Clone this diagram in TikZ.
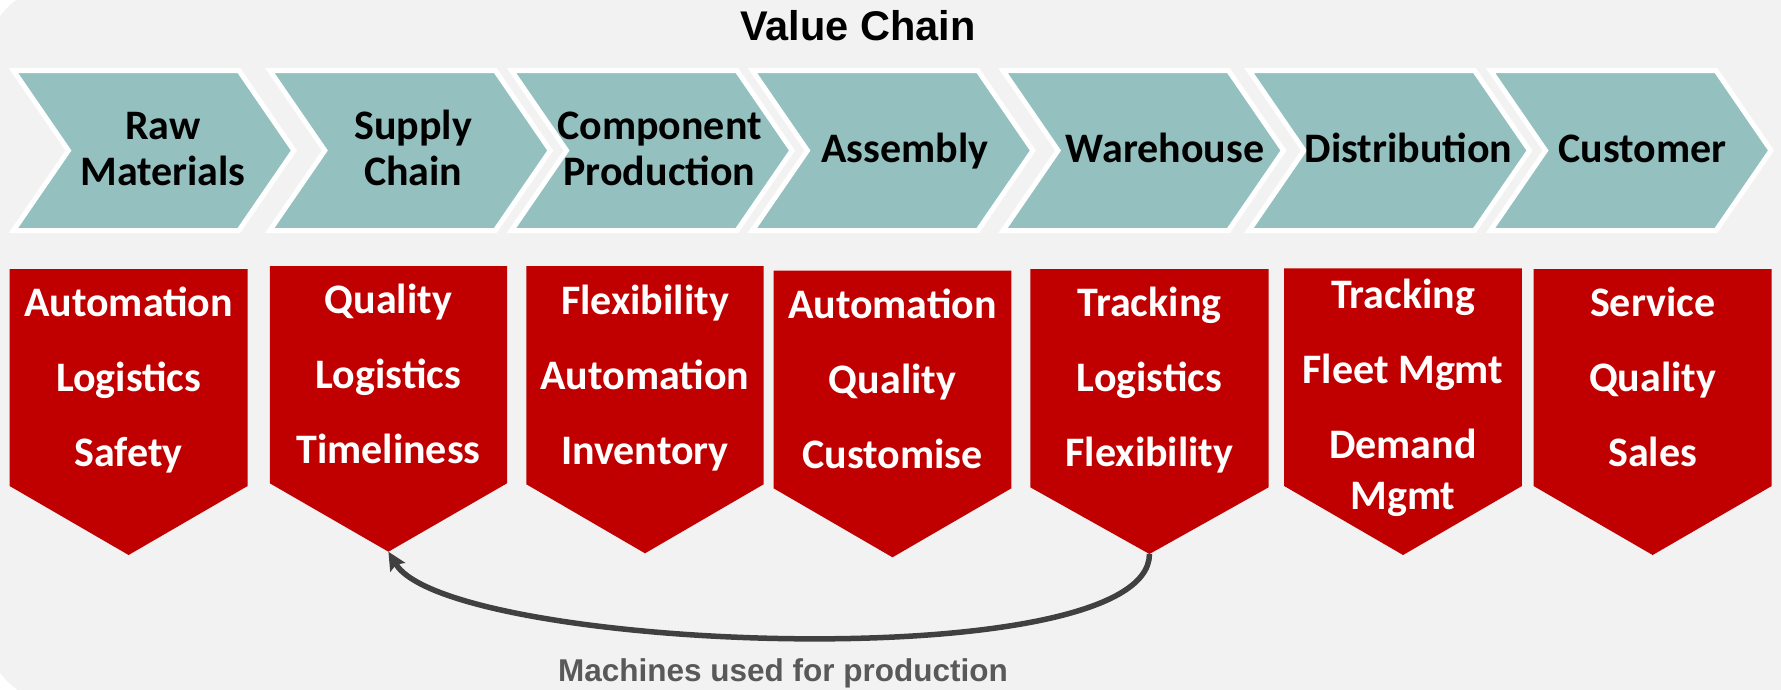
\documentclass[tikz,border=0pt]{standalone}
\usepackage{fontspec}
\setmainfont{Carlito}
\newfontfamily\arialfont{Liberation Sans}
\usetikzlibrary{arrows.meta}
\definecolor{bggray}{HTML}{F2F2F2}
\definecolor{tealfill}{HTML}{94C1C0}
\definecolor{darkred}{HTML}{C00000}
\definecolor{arrowgray}{HTML}{404040}
\definecolor{labelgray}{HTML}{595959}
\tikzset{
  chev/.style={fill=tealfill, draw=white, line width=5pt, line join=miter},
  redbox/.style={fill=darkred},
  chevtext/.style={font=\fontsize{42}{45.7}\selectfont\bfseries, text=black, align=center, anchor=base, inner sep=0pt},
  boxtext/.style={font=\fontsize{42}{75}\selectfont\bfseries, text=white, align=center, anchor=base, inner sep=0pt},
  titletext/.style={font=\arialfont\fontsize{41.5}{48}\selectfont\bfseries, anchor=base, inner sep=0pt},
  captiontext/.style={font=\arialfont\fontsize{31.5}{36}\selectfont\bfseries, text=labelgray, anchor=base, inner sep=0pt},
  feedback/.style={draw=arrowgray, line width=5.5pt, -{Stealth[length=18pt,width=17pt,inset=3pt]}},
}
\begin{document}
\begin{tikzpicture}[x=1pt,y=-1pt]
\useasboundingbox (0,0) rectangle (1781,689);
\fill[white] (0,0) rectangle (1781,689);
\begin{scope}
  \clip (0,0) rectangle (1781,689);
  \fill[bggray, rounded corners=70pt] (-13,-13) rectangle (1900,702);
\end{scope}

% chevrons
\foreach \L in {13.4,269.8,511.5,752.4,1003,1249,1490.5}
  \path[chev] (\L,70.5) -- ++(225.5,0) -- ++(55,80) -- ++(-55,80) -- ++(-225.5,0) -- ++(55,-80) -- cycle;

% red boxes
\foreach \L/\R/\T/\B/\P/\n in {9.6/247.6/269/486/555/1, 269.8/507/266/483.3/551.7/2, 526.4/763.6/266/484.3/553.3/3, 773.6/1011.4/270.7/488.3/557.3/4, 1030.3/1268.6/269/487.3/554/5, 1284.2/1521.9/268.3/486/555/6, 1533.6/1771.7/269/486/555/7}{
  \fill[redbox] (\L,\T) -- (\R,\T) -- (\R,\B) -- ({(\L+\R)/2},\P) -- (\L,\B) -- cycle;
  \coordinate (tip\n) at ({(\L+\R)/2},\P);
}

\node[titletext] (title) at (858,40) {Value Chain};

% multi-line nodes: anchor=base is the baseline of the last line
\node[chevtext] (c1) at (163,185) {Raw\\Materials};
\node[chevtext] (c2) at (413.3,185) {Supply\\Chain};
\node[chevtext] (c3) at (659.5,185) {Component\\Production};
\node[chevtext] (c4) at (905,162.7) {Assembly};
\node[chevtext] (c5) at (1165,162) {Warehouse};
\node[chevtext] (c6) at (1408.6,162.7) {Distribution};
\node[chevtext] (c7) at (1642.4,162.7) {Customer};

\node[boxtext] (t1) at (128.6,466.7) {Automation\\Logistics\\Safety};
\node[boxtext] (t2) at (388.4,463.3) {Quality\\Logistics\\Timeliness};
\node[boxtext] (t3) at (645,464) {Flexibility\\Automation\\Inventory};
\node[boxtext] (t4) at (892.5,468.3) {Automation\\Quality\\Customise};
\node[boxtext] (t5) at (1149.5,466.7) {Tracking\\Logistics\\Flexibility};
\node[boxtext] (t6) at (1403,509.3) {Tracking\\Fleet Mgmt\\Demand\\[-24pt]Mgmt};
\node[boxtext] (t7) at (1652.6,466.7) {Service\\Quality\\Sales};

\draw[feedback] (tip5) .. controls +(0,125) and +(60,100) .. (tip2);

\node[captiontext] (cap) at (783,681.7) {Machines used for production};
\end{tikzpicture}
\end{document}
